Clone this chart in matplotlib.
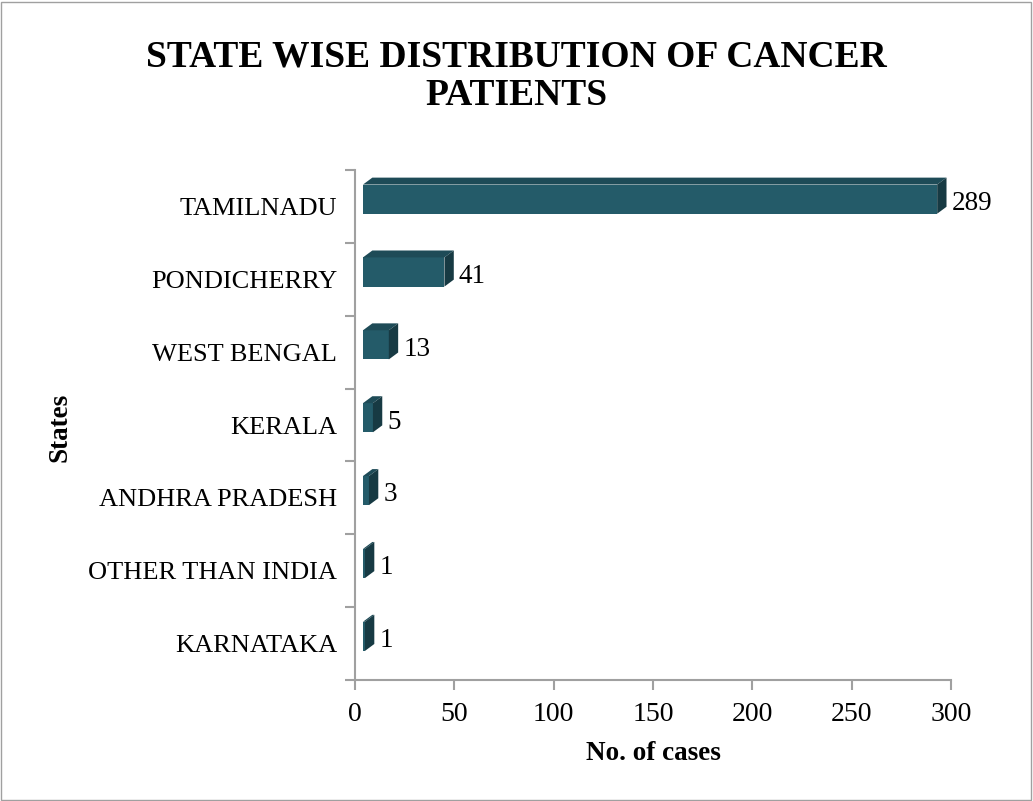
import matplotlib.pyplot as plt
from matplotlib.patches import Polygon

# data (bottom to top)
states = ["KARNATAKA", "OTHER THAN INDIA", "ANDHRA PRADESH", "KERALA",
          "WEST BENGAL", "PONDICHERRY", "TAMILNADU"]
cases = [1, 1, 3, 5, 13, 41, 289]

FRONT = "#245B69"
TOP = "#1E4B57"
SIDE = "#173A43"

plt.rcParams['font.family'] = 'Liberation Serif'

fig = plt.figure(figsize=(10.33, 8.01), dpi=100)
ax = fig.add_axes([0.3437, 0.151, 0.577, 0.6368])

# pseudo 3D bar geometry (data units)
x0 = 4.0      # front face starts a bit off the axis
dx = 4.7      # depth to the right
dy = 0.095    # depth upward
h = 0.40      # front face height
yoff = 0.10   # front face centre above category centre

for i, v in enumerate(cases):
    yb = i + yoff - h / 2
    yt = yb + h
    xr = x0 + v
    ax.add_patch(Polygon([(x0, yb), (xr, yb), (xr, yt), (x0, yt)],
                         closed=True, facecolor=FRONT, edgecolor="none"))
    ax.add_patch(Polygon([(x0, yt), (xr, yt), (xr + dx, yt + dy), (x0 + dx, yt + dy)],
                         closed=True, facecolor=TOP, edgecolor="none"))
    ax.add_patch(Polygon([(xr, yb), (xr + dx, yb + dy), (xr + dx, yt + dy), (xr, yt)],
                         closed=True, facecolor=SIDE, edgecolor="none"))
    ax.text(xr + dx + 2.5, i + 0.04, str(v), va="center", ha="left", fontsize=19.5)

ax.set_xlim(0, 300)
ax.set_ylim(-0.5, len(states) - 0.5)
ax.set_xticks(range(0, 301, 50))
ax.set_yticks([i - 0.5 for i in range(len(states) + 1)], minor=False)
ax.set_yticklabels([])
ax.set_yticks(range(len(states)), minor=True)
ax.set_yticklabels(states, minor=True)
ax.tick_params(axis="y", which="minor", length=0, pad=13, labelsize=19)
ax.tick_params(axis="y", which="major", length=7, color="#A0A0A0", width=1.5)
ax.tick_params(axis="x", length=7, color="#A0A0A0", width=1.5, labelsize=20, pad=9)

for s in ["top", "right"]:
    ax.spines[s].set_visible(False)
for s in ["left", "bottom"]:
    ax.spines[s].set_color("#A0A0A0")
    ax.spines[s].set_linewidth(1.5)

ax.set_xlabel("No. of cases", fontsize=19.5, fontweight="bold", labelpad=10)
fig.text(0.058, 0.466, "States", rotation=90, fontsize=19.5, fontweight="bold",
         ha="center", va="center")

fig.text(0.5, 0.905, "STATE WISE DISTRIBUTION OF CANCER\nPATIENTS", ha="center",
         va="center", fontsize=27, fontweight="bold", linespacing=1.15)

# grey frame around the figure
fig.add_artist(plt.Rectangle((0.001, 0.001), 0.997, 0.997, transform=fig.transFigure,
                             fill=False, edgecolor="#A0A0A0", linewidth=1))

fig.savefig("out.png", dpi=100)
